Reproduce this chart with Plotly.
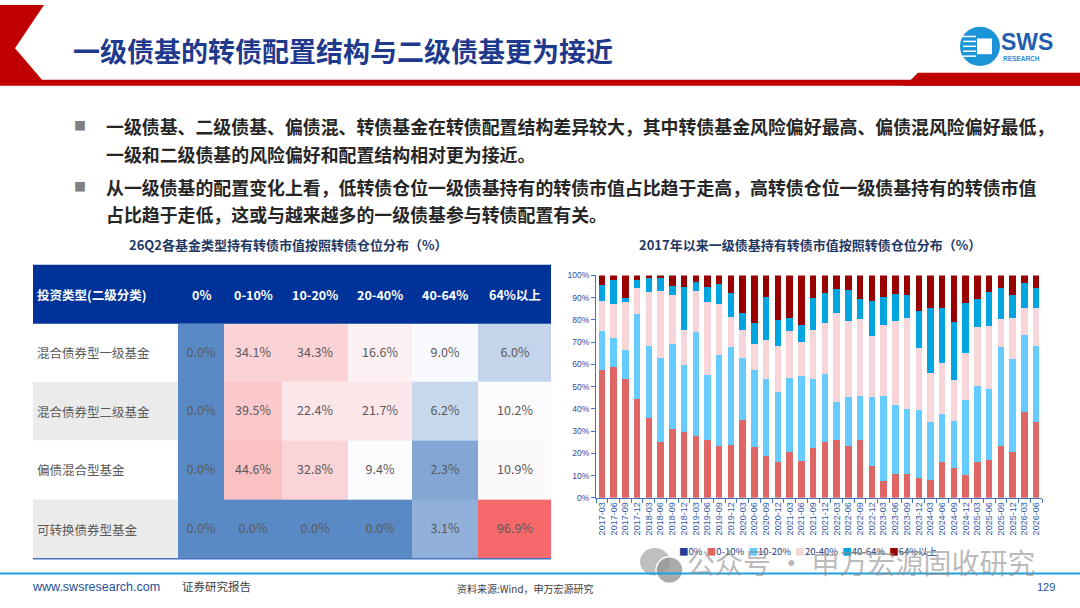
import numpy as np
import plotly.graph_objects as go

W, H = 1080, 608

# ---------------- data ----------------
# left table: 26Q2 share of convertible holdings by CB position bucket (%)
fund_types = ['混合债券型一级基金', '混合债券型二级基金', '偏债混合型基金', '可转换债券型基金']
pos_buckets = ['0%', '0-10%', '10-20%', '20-40%', '40-64%', '64%以上']
tbl_first = [0.0, 34.1, 34.3, 16.6, 9.0, 6.0]
tbl_second = [0.0, 39.5, 22.4, 21.7, 6.2, 10.2]
tbl_mixed = [0.0, 44.6, 32.8, 9.4, 2.3, 10.9]
tbl_cb = [0.0, 0.0, 0.0, 0.0, 3.1, 96.9]

# right chart: first-level bond funds since 2017 (%)
quarters = ['2017-03', '2017-06', '2017-09', '2017-12', '2018-03', '2018-06', '2018-09', '2018-12',
            '2019-03', '2019-06', '2019-09', '2019-12', '2020-03', '2020-06', '2020-09', '2020-12',
            '2021-03', '2021-06', '2021-09', '2021-12', '2022-03', '2022-06', '2022-09', '2022-12',
            '2023-03', '2023-06', '2023-09', '2023-12', '2024-03', '2024-06', '2024-09', '2024-12',
            '2025-03', '2025-06', '2025-09', '2025-12', '2026-03', '2026-06']
s_0 = [0, 0, 0, 0, 0, 0, 0, 0, 0, 0, 0, 0, 0, 0, 0, 0, 0, 0, 0,
       0, 0, 0, 0, 0, 0, 0, 0, 0, 0, 0, 0, 0, 0, 0, 0, 0, 0, 0]
s_0_10 = [57.6, 58.7, 53.5, 44.4, 35.7, 25.3, 31.0, 29.5, 27.7, 26.1, 23.1, 23.6, 34.8, 22.7, 18.7, 16.1,
          20.4, 16.6, 22.4, 25.3, 25.9, 23.4, 25.9, 14.1, 7.6, 10.7, 10.7, 8.7, 8.0, 16.0, 13.3, 10.4,
          16.0, 17.0, 23.4, 20.7, 38.4, 33.9]
s_10_20 = [17.2, 13.2, 13.0, 38.4, 32.4, 37.5, 38.3, 30.4, 46.8, 29.2, 41.2, 44.1, 28.0, 34.9, 34.8, 31.5,
           33.5, 38.1, 31.1, 30.4, 17.1, 21.8, 20.0, 31.4, 38.3, 31.1, 29.4, 30.6, 25.9, 21.6, 21.1, 33.7,
           34.1, 32.0, 44.3, 41.7, 34.8, 34.5]
s_20_40 = [13.5, 15.2, 21.5, 11.4, 24.6, 30.4, 22.0, 15.7, 18.7, 32.7, 22.8, 13.6, 12.6, 11.7, 17.5, 20.8,
           20.9, 15.2, 21.8, 23.1, 40.3, 34.1, 34.5, 27.1, 31.7, 37.8, 40.9, 28.0, 22.1, 22.8, 18.6, 21.2,
           26.8, 28.3, 12.6, 18.6, 12.1, 16.9]
s_40_64 = [7.3, 10.7, 1.9, 3.6, 6.0, 5.5, 3.8, 19.1, 3.7, 6.7, 9.0, 10.6, 7.6, 9.5, 19.2, 11.7,
           6.2, 7.6, 14.5, 13.2, 10.6, 14.0, 9.1, 15.8, 12.6, 12.1, 10.0, 16.8, 29.3, 24.9, 26.0, 22.1,
           12.6, 15.1, 13.9, 10.3, 11.3, 8.9]
s_64_up = [4.4, 2.2, 10.1, 2.2, 1.3, 1.3, 4.9, 5.3, 3.1, 5.3, 3.9, 8.1, 17.0, 21.2, 9.8, 19.9,
           19.0, 22.5, 10.2, 8.0, 6.1, 6.7, 10.5, 11.6, 9.8, 8.3, 9.0, 15.9, 14.7, 14.7, 21.0, 12.6,
           10.5, 7.6, 5.8, 8.7, 3.4, 5.8]

series = [s_0, s_0_10, s_10_20, s_20_40, s_40_64, s_64_up]
bar_colors = ['#1F3F99', '#E06666', '#66CCFF', '#F8D5D8', '#00A5E0', '#990000']

bullets = [
    ['一级债基、二级债基、偏债混、转债基金在转债配置结构差异较大，其中转债基金风险偏好最高、偏债混风险偏好最低，',
     '一级和二级债基的风险偏好和配置结构相对更为接近。'],
    ['从一级债基的配置变化上看，低转债仓位一级债基持有的转债市值占比趋于走高，高转债仓位一级债基持有的转债市值',
     '占比趋于走低，这或与越来越多的一级债基参与转债配置有关。'],
]


# pixel -> paper helpers
def px(x):
    return x / W


def py(y):
    return 1 - y / H


CJK = 'Noto Sans CJK SC'
NAVY = '#1F3A8C'

fig = go.Figure()

#####################################################################
# stacked bars (right)
for name, vals, col in zip(pos_buckets, series, bar_colors):
    fig.add_trace(go.Bar(x=quarters, y=vals, name=name, marker=dict(color=col, line=dict(width=0)),
                         xaxis='x', yaxis='y', showlegend=False))

#####################################################################
# heatmap table (left)
z = np.array([tbl_first, tbl_second, tbl_mixed, tbl_cb])
zmin, zmax = z.min(), z.max()
mid = (np.median(z) - zmin) / (zmax - zmin)
col_edges = [0, 46, 104, 170, 234, 300, 373]
row_edges = [0, 59, 118, 178, 238]
fig.add_trace(go.Heatmap(
    z=z, x=col_edges, y=row_edges, xaxis='x2', yaxis='y2',
    zmin=zmin, zmax=zmax, showscale=False,
    colorscale=[[0, '#5A8AC6'], [mid, '#FCFCFF'], [1, '#F8696B']],
    texttemplate='%{z:.1f}%', textfont=dict(family=CJK, size=12.5, color='#595959'),
    hoverinfo='skip'))

shapes = []
annos = []

# header band and title
shapes.append(dict(type='path', xref='paper', yref='paper', line=dict(width=0), fillcolor='#C00000',
                   path=f'M {px(0)},{py(0)} L {px(44)},{py(0)} L {px(15)},{py(44)} L {px(42)},{py(76)} '
                        f'L {px(1080)},{py(76)} L {px(1080)},{py(82)} L {px(0)},{py(82)} Z'))
shapes.append(dict(type='path', xref='paper', yref='paper', line=dict(width=0), fillcolor='#C00000',
                   path=f'M {px(918)},{py(69)} L {px(1080)},{py(69)} L {px(1080)},{py(82)} L {px(905)},{py(82)} Z'))
annos.append(dict(x=px(71), y=py(46), xref='paper', yref='paper', xanchor='left', yanchor='middle',
                  text='<b>一级债基的转债配置结构与二级债基更为接近</b>', showarrow=False,
                  font=dict(family=CJK, size=27, color=NAVY)))

# logo
shapes.append(dict(type='circle', xref='paper', yref='paper', x0=px(960), x1=px(1000), y0=py(62), y1=py(22),
                   fillcolor='#1C95D8', line=dict(width=0)))
shapes.append(dict(type='rect', xref='paper', yref='paper', x0=px(977), x1=px(992), y0=py(50), y1=py(34),
                   fillcolor='white', line=dict(width=0)))
for yy in [32, 37, 42, 47, 52]:
    shapes.append(dict(type='line', xref='paper', yref='paper', x0=px(963), x1=px(976), y0=py(yy), y1=py(yy),
                       line=dict(color='white', width=1.5)))
annos.append(dict(x=px(999), y=py(38), xref='paper', yref='paper', xanchor='left', yanchor='middle',
                  text='<b>SWS</b>', showarrow=False, font=dict(family='Liberation Sans', size=23, color='#1F5FAE')))
annos.append(dict(x=px(1001), y=py(54), xref='paper', yref='paper', xanchor='left', yanchor='middle',
                  text='<b>RESEARCH</b>', showarrow=False, font=dict(family='Liberation Sans', size=6.5, color='#1F8FD6')))

# bullets
line_y = [[123, 151], [185, 212]]
for lines, ys in zip(bullets, line_y):
    annos.append(dict(x=px(80), y=py(ys[0]), xref='paper', yref='paper', xanchor='center', yanchor='middle',
                      text='■', showarrow=False, font=dict(family=CJK, size=12, color='#808080')))
    for t, yy in zip(lines, ys):
        annos.append(dict(x=px(104), y=py(yy), xref='paper', yref='paper', xanchor='left', yanchor='middle',
                          text='<b>' + t + '</b>', showarrow=False, font=dict(family=CJK, size=17.9, color='#262626')))

# sub titles
annos.append(dict(x=px(288), y=py(243), xref='paper', yref='paper', xanchor='center', yanchor='middle',
                  text='<b>26Q2各基金类型持有转债市值按照转债仓位分布（%）</b>', showarrow=False,
                  font=dict(family=CJK, size=13, color='#1F3864')))
annos.append(dict(x=px(810), y=py(243), xref='paper', yref='paper', xanchor='center', yanchor='middle',
                  text='<b>2017年以来一级债基持有转债市值按照转债仓位分布（%）</b>', showarrow=False,
                  font=dict(family=CJK, size=13, color='#1F3864')))

# table header + name column
shapes.append(dict(type='rect', xref='paper', yref='paper', x0=px(33), x1=px(551), y0=py(324), y1=py(264),
                   fillcolor='#003399', line=dict(width=0)))
for i in range(len(fund_types)):
    if i % 2 == 1:
        shapes.append(dict(type='rect', xref='paper', yref='y2', x0=px(33), x1=px(178),
                           y0=row_edges[i], y1=row_edges[i + 1], fillcolor='#EBEBEB', line=dict(width=0)))
    annos.append(dict(x=px(35), y=(row_edges[i] + row_edges[i + 1]) / 2, xref='paper', yref='y2',
                      xanchor='left', yanchor='middle', text=fund_types[i], showarrow=False,
                      font=dict(family=CJK, size=12.5, color='#595959')))
shapes.append(dict(type='line', xref='paper', yref='paper', x0=px(33), x1=px(551), y0=py(563), y1=py(563),
                   line=dict(color='#4472C4', width=1.5)))
annos.append(dict(x=px(35), y=py(294), xref='paper', yref='paper', xanchor='left', yanchor='middle',
                  text='<b>投资类型(二级分类)</b>', showarrow=False, font=dict(family=CJK, size=12.5, color='white')))
for j, b in enumerate(pos_buckets):
    annos.append(dict(x=(col_edges[j] + col_edges[j + 1]) / 2, y=py(294), xref='x2', yref='paper',
                      xanchor='center', yanchor='middle', text='<b>' + b + '</b>', showarrow=False,
                      font=dict(family=CJK, size=12.5, color='white')))

# legend for the bars
leg = '  '.join(f'<span style="color:{c}">■</span>{n}' for n, c in zip(pos_buckets, bar_colors))
annos.append(dict(x=px(808), y=py(555), xref='paper', yref='paper', xanchor='center', yanchor='middle',
                  text=leg, showarrow=False, font=dict(family=CJK, size=9.5, color='#1F3F7F')))

# watermark
shapes.append(dict(type='circle', xref='paper', yref='paper', x0=px(640), x1=px(670), y0=py(580), y1=py(552),
                   fillcolor='rgba(170,170,170,0.75)', line=dict(width=0)))
shapes.append(dict(type='circle', xref='paper', yref='paper', x0=px(656), x1=px(683), y0=py(588), y1=py(561),
                   fillcolor='rgba(150,150,150,0.8)', line=dict(color='white', width=1.5)))
annos.append(dict(x=px(685), y=py(566), xref='paper', yref='paper', xanchor='left', yanchor='middle',
                  text='公众号 · 申万宏源固收研究', showarrow=False,
                  font=dict(family=CJK, size=28, color='rgba(140,140,140,0.6)')))

# footer
shapes.append(dict(type='line', xref='paper', yref='paper', x0=0, x1=1, y0=py(578), y1=py(578),
                   line=dict(color='#1EA0DC', width=2)))
annos.append(dict(x=px(30), y=py(592), xref='paper', yref='paper', xanchor='left', yanchor='middle',
                  text='www.swsresearch.com', showarrow=False,
                  font=dict(family='Liberation Sans', size=12.5, color='#1F4E9A')))
annos.append(dict(x=px(180), y=py(591), xref='paper', yref='paper', xanchor='left', yanchor='middle',
                  text='证券研究报告', showarrow=False, font=dict(family=CJK, size=11.5, color='#404040')))
annos.append(dict(x=px(455), y=py(593), xref='paper', yref='paper', xanchor='left', yanchor='middle',
                  text='资料来源:Wind，申万宏源研究', showarrow=False, font=dict(family=CJK, size=10, color='#404040')))
annos.append(dict(x=px(1057), y=py(592), xref='paper', yref='paper', xanchor='right', yanchor='middle',
                  text='129', showarrow=False, font=dict(family='Liberation Sans', size=11, color='#1F4E9A')))

fig.update_layout(
    width=W, height=H, margin=dict(l=0, r=0, t=0, b=0),
    paper_bgcolor='white', plot_bgcolor='white',
    barmode='stack', bargap=0.45, showlegend=False,
    xaxis=dict(domain=[px(596), px(1042)], type='category', tickangle=-90,
               tickfont=dict(family='Liberation Sans', size=9, color='#2E59A8'),
               showline=True, linecolor='#4472C4', ticks='outside', ticklen=4, tickcolor='#4472C4',
               tickson='boundaries', showgrid=False, anchor='y'),
    yaxis=dict(domain=[py(501), py(275)], range=[0, 100], dtick=10, ticksuffix='%',
               tickfont=dict(family='Liberation Sans', size=8.5, color='#2E4C9A'),
               showline=True, linecolor='#4472C4', ticks='outside', ticklen=4, tickcolor='#4472C4',
               showgrid=False, zeroline=False, anchor='x'),
    xaxis2=dict(domain=[px(178), px(551)], range=[0, 373], visible=False, anchor='y2'),
    yaxis2=dict(domain=[py(563), py(324)], range=[238, 0], visible=False, anchor='x2'),
    shapes=shapes, annotations=annos,
)

# the page body has a default 8px margin; drop it so the slide sits at the window origin
fig.write_html('out.html', config={'displayModeBar': False},
               post_script="document.body.style.margin='0';document.body.style.overflow='hidden';")
